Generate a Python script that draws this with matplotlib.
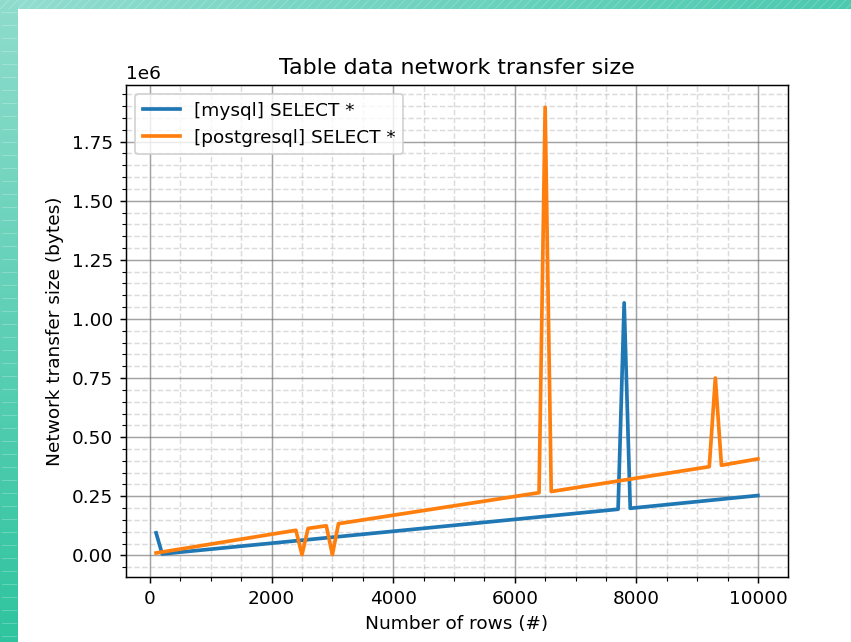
import numpy as np
import matplotlib
matplotlib.use("Agg")
import matplotlib.pyplot as plt
from matplotlib.colors import LinearSegmentedColormap

# ---- data (vertices) ----
mysql_rows = [100, 200, 7700, 7800, 7900, 10000]
mysql_bytes = [95000, 6000, 195000, 1068000, 199000, 253000]

pg_rows = [100, 2400, 2500, 2600, 2900, 3000, 3100, 6400, 6500, 6600, 9200, 9300, 9400, 10000]
pg_bytes = [10000, 106000, 3000, 114000, 125000, 3000, 134000, 265000, 1895000, 270000,
            375000, 750000, 381000, 408000]

series_labels = ["[mysql] SELECT *", "[postgresql] SELECT *"]
title = "Table data network transfer size"
xlabel = "Number of rows (#)"
ylabel = "Network transfer size (bytes)"

DPI = 133
W, H = 851, 642
fig = plt.figure(figsize=(W / DPI, H / DPI), dpi=DPI)
fig.patch.set_facecolor("white")

# ---- decorative background (teal frame) ----
bg = fig.add_axes([0, 0, 1, 1], zorder=-5)
bg.set_xlim(0, W)
bg.set_ylim(H, 0)
bg.axis("off")
top_cmap = LinearSegmentedColormap.from_list("top", ["#93ddd0", "#4ccaaf"])
left_cmap = LinearSegmentedColormap.from_list("left", ["#8fdccc", "#2fc49f"])
bg.imshow(np.linspace(0, 1, 256)[None, :], cmap=top_cmap, extent=(0, W, 9, 0), aspect="auto")
bg.imshow(np.linspace(0, 1, 256)[:, None], cmap=left_cmap, extent=(0, 18, H, 0), aspect="auto")
for xx in range(0, W + 20, 9):
    bg.plot([xx, xx - 9], [0, 9], color="white", lw=0.4, alpha=0.25)
for yy in range(12, H, 13):
    bg.plot([2, 16], [yy, yy], color="white", lw=0.5, alpha=0.25)

# ---- chart ----
ax = fig.add_axes([126 / W, 1 - 577 / H, (788 - 126) / W, (577 - 85) / H])
ax.plot(mysql_rows, mysql_bytes, label=series_labels[0], color="#1f77b4", lw=2.0)
ax.plot(pg_rows, pg_bytes, label=series_labels[1], color="#ff7f0e", lw=2.0)

ax.minorticks_on()
ax.grid(which="major", color="#666666", linestyle="-", alpha=0.6, lw=0.8)
ax.grid(which="minor", color="#999999", linestyle="--", alpha=0.35, lw=0.8)

ax.set_title(title)
ax.set_xlabel(xlabel)
ax.set_ylabel(ylabel)
ax.legend(loc="upper left")

fig.savefig("out.png", dpi=DPI)
